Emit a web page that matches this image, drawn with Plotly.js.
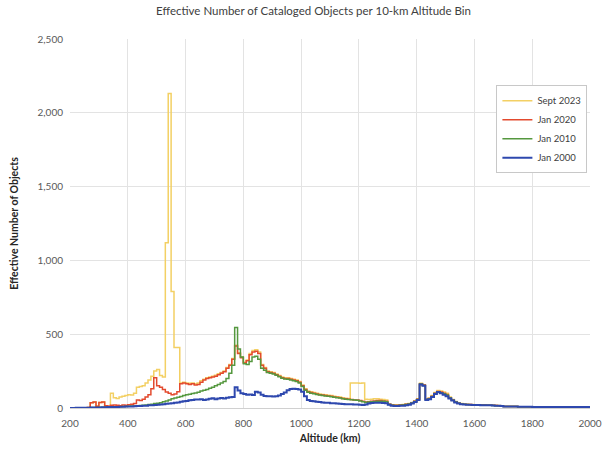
<!DOCTYPE html>
<html>
<head>
<meta charset="utf-8">
<script src="https://cdn.plot.ly/plotly-3.0.1.min.js"></script>
<style>html,body{margin:0;padding:0;background:#fff;}#chart{width:603px;height:452px;}</style>
</head>
<body>
<div id="chart"></div>
<script>
// Altitude bin starts (km)
const altitudes = [
  200,210,220,230,240,250,260,270,280,290,
  300,310,320,330,340,350,360,370,380,390,
  400,410,420,430,440,450,460,470,480,490,
  500,510,520,530,540,550,560,570,580,590,
  600,610,620,630,640,650,660,670,680,690,
  700,710,720,730,740,750,760,770,780,790,
  800,810,820,830,840,850,860,870,880,890,
  900,910,920,930,940,950,960,970,980,990,
  1000,1010,1020,1030,1040,1050,1060,1070,1080,1090,
  1100,1110,1120,1130,1140,1150,1160,1170,1180,1190,
  1200,1210,1220,1230,1240,1250,1260,1270,1280,1290,
  1300,1310,1320,1330,1340,1350,1360,1370,1380,1390,
  1400,1410,1420,1430,1440,1450,1460,1470,1480,1490,
  1500,1510,1520,1530,1540,1550,1560,1570,1580,1590,
  1600,1610,1620,1630,1640,1650,1660,1670,1680,1690,
  1700,1750,1800,1900,2000
];

const sept2023 = [
  0,0,0,1,1,2,3,35,40,12,
  38,40,15,12,100,70,65,75,80,85,
  90,88,100,140,145,150,170,190,215,250,
  260,220,210,1120,2130,790,410,410,170,175,
  170,168,170,165,170,185,195,205,210,215,
  222,232,240,250,275,295,335,425,375,345,
  310,325,370,390,395,380,295,275,250,245,
  240,230,220,210,205,205,200,195,190,180,
  155,130,115,110,105,100,95,92,90,86,
  84,80,76,74,70,66,64,170,170,170,
  168,170,60,58,60,62,62,60,58,55,
  28,22,20,20,22,24,27,30,37,47,
  62,168,158,62,68,84,105,118,115,108,
  100,75,58,44,35,30,27,25,24,23,
  22,22,21,21,20,20,19,18,17,16,
  12,9,8,7,7
];

const jan2020 = [
  0,0,0,1,1,2,3,35,40,12,
  38,40,15,12,18,20,18,15,20,18,
  22,25,30,55,50,60,75,90,130,205,
  150,140,125,108,100,90,95,110,165,170,
  165,160,165,155,160,175,190,200,205,210,
  215,225,235,245,270,290,330,420,370,340,
  305,320,360,380,385,370,290,270,245,240,
  235,225,215,205,200,200,195,190,185,175,
  150,125,110,105,100,95,90,88,85,82,
  80,75,72,70,65,62,60,58,55,55,
  50,45,40,42,45,48,50,50,48,45,
  25,20,18,18,20,22,25,28,35,45,
  60,165,155,60,65,80,100,112,108,100,
  92,70,55,42,33,28,26,24,23,22,
  21,21,20,20,19,19,18,17,16,15,
  11,9,8,7,7
];

const jan2010 = [
  0,0,0,1,1,1,2,3,3,4,
  5,5,6,6,7,8,8,9,10,11,
  12,13,14,16,17,19,21,23,26,30,
  32,36,42,48,55,62,67,72,78,84,
  90,94,98,102,107,115,120,126,133,140,
  150,160,170,180,200,235,290,545,400,345,
  300,295,315,345,350,330,270,255,240,235,
  230,222,212,202,196,195,190,185,180,170,
  145,120,106,100,96,92,88,85,82,80,
  77,73,70,67,63,60,58,56,54,53,
  48,43,38,40,42,44,46,46,45,42,
  24,19,17,17,19,21,24,27,34,44,
  58,162,152,58,63,78,98,110,104,96,
  88,68,53,40,32,27,25,23,22,21,
  20,20,19,19,18,18,17,16,15,14,
  10,8,7,6,6
];

const jan2000 = [
  0,0,1,1,1,2,2,3,3,4,
  4,5,5,6,6,7,7,8,9,10,
  10,11,12,13,14,15,16,18,19,20,
  22,24,26,28,30,33,36,38,42,45,
  48,52,55,57,58,60,55,58,62,66,
  60,64,68,65,70,72,75,140,118,100,
  95,90,92,88,110,105,90,82,80,80,
  78,80,85,95,105,120,128,130,128,125,
  110,80,55,48,45,42,40,38,36,35,
  33,32,30,28,27,26,25,25,24,24,
  22,20,24,30,34,35,36,35,34,33,
  22,15,14,14,15,16,18,22,30,40,
  55,160,150,55,60,75,95,108,100,90,
  80,65,50,38,30,26,24,22,22,21,
  20,20,19,19,18,18,17,16,15,14,
  10,8,7,6,6
];

const seriesNames = ['Sept 2023', 'Jan 2020', 'Jan 2010', 'Jan 2000'];
const seriesData = [sept2023, jan2020, jan2010, jan2000];
const seriesColors = ['#F3D064', '#E34A2E', '#55983F', '#2E48AE'];
const seriesWidths = [1.5, 1.5, 1.5, 2];

const traces = seriesData.map((ys, i) => ({
  type: 'scatter',
  mode: 'lines',
  name: seriesNames[i],
  x: altitudes,
  y: ys,
  line: {shape: 'hv', color: seriesColors[i], width: seriesWidths[i]}
}));

const font = 'Lato, "Open Sans", "Liberation Sans", sans-serif';

const layout = {
  width: 603,
  height: 452,
  margin: {l: 70, r: 13, t: 39, b: 44},
  paper_bgcolor: '#ffffff',
  plot_bgcolor: '#ffffff',
  font: {family: font, size: 10, color: '#595959'},
  title: {
    text: 'Effective Number of Cataloged Objects per 10-km Altitude Bin',
    font: {family: font, size: 11.5, color: '#404040'},
    x: 0.52, xanchor: 'center', y: 0.975, yanchor: 'middle'
  },
  xaxis: {
    range: [200, 2000],
    dtick: 200,
    tick0: 200,
    tickformat: 'd',
    showgrid: true,
    gridcolor: '#e3e3e3',
    gridwidth: 1,
    zeroline: false,
    showline: true,
    linecolor: '#d0d0d0',
    ticks: '',
    ticklabelstandoff: 6,
    ticklabeloverflow: 'allow',
    tickfont: {family: font, size: 10, color: '#595959'},
    title: {text: '<b>Altitude (km)</b>', font: {family: font, size: 10.5, color: '#262626'}, standoff: 6}
  },
  yaxis: {
    range: [0, 2500],
    dtick: 500,
    tickformat: ',d',
    showgrid: true,
    gridcolor: '#e3e3e3',
    gridwidth: 1,
    zeroline: false,
    showline: false,
    ticks: '',
    ticklabelstandoff: 6,
    tickfont: {family: font, size: 10, color: '#595959'},
    title: {text: '<b>Effective Number of Objects</b>', font: {family: font, size: 10.5, color: '#262626'}, standoff: 16}
  },
  legend: {
    x: 0.82, y: 0.875, xanchor: 'left', yanchor: 'top',
    bgcolor: '#ffffff',
    bordercolor: '#c8c8c8',
    borderwidth: 1,
    font: {family: font, size: 9.5, color: '#404040'},
    tracegroupgap: 2,
    itemwidth: 30
  },
  showlegend: true
};

Plotly.newPlot('chart', traces, layout, {displayModeBar: false, staticPlot: true});
</script>
</body>
</html>
